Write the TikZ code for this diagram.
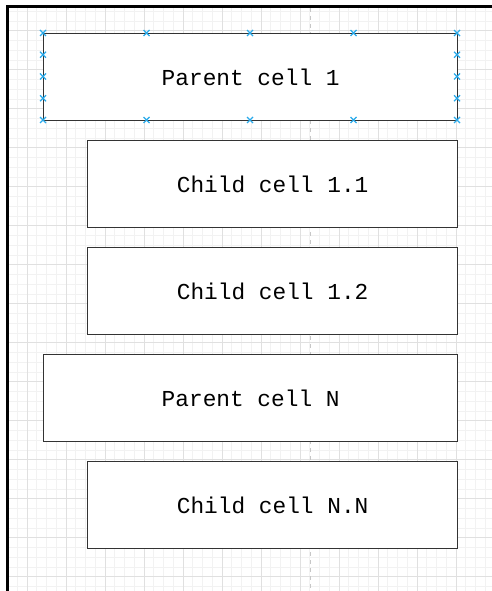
\documentclass[tikz,border=0pt]{standalone}
\usepackage{fontspec}
\newfontfamily\courierfont{Liberation Mono}
\definecolor{selblue}{RGB}{41,170,235}
\begin{document}
\begin{tikzpicture}[x=1pt,y=-1pt,
  cellbox/.style={draw=black!80,line width=1.3pt,fill=white,inner sep=0pt,anchor=north west,
    font=\courierfont\fontsize{22.8}{26}\selectfont},
  minorgrid/.style={draw=black!5,line width=0.8pt},
  majorgrid/.style={draw=black!12,line width=0.8pt},
  guide/.style={draw=black!22,line width=1pt,dash pattern=on 4pt off 4pt},
  selmark/.style={draw=selblue,line width=1.1pt}]
\useasboundingbox (0,0) rectangle (492,591);
\fill[white] (0,0) rectangle (492,591);
% grid
\foreach \k in {-2,...,47} {
  \draw[minorgrid] ({27+9.75*\k},7) -- ({27+9.75*\k},591);
}
\foreach \k in {-2,...,57} {
  \draw[minorgrid] (7,{30.7+9.75*\k}) -- (492,{30.7+9.75*\k});
}
\foreach \k in {0,...,12} {
  \draw[majorgrid] ({27+39*\k},7) -- ({27+39*\k},591);
}
\foreach \k in {0,...,14} {
  \draw[majorgrid] (7,{30.7+39*\k}) -- (492,{30.7+39*\k});
}
% center guide
\coordinate (gtop) at (310.5,8);
\coordinate (gbot) at (310.5,591);
\draw[guide] (gtop) -- (gbot);
% border
\draw[line width=3pt,black] (7,591) -- (7,7) -- (492,7);
% cells
\node[cellbox,minimum width=414pt,minimum height=87pt] (p1) at (43,33) {Parent cell 1};
\node[cellbox,minimum width=370pt,minimum height=87pt] (c11) at (87,140) {Child cell 1.1};
\node[cellbox,minimum width=370pt,minimum height=87pt] (c12) at (87,247) {Child cell 1.2};
\node[cellbox,minimum width=414pt,minimum height=87pt] (pn) at (43,354) {Parent cell N};
\node[cellbox,minimum width=370pt,minimum height=87pt] (cnn) at (87,461) {Child cell N.N};
% selection markers
\foreach \px in {43,146.5,250,353.5,457} {
  \foreach \py in {33,120} {
    \draw[selmark] (\px-3,\py-3) -- (\px+3,\py+3) (\px-3,\py+3) -- (\px+3,\py-3);
  }
}
\foreach \px in {43,457} {
  \foreach \py in {54.75,76.5,98.25} {
    \draw[selmark] (\px-3,\py-3) -- (\px+3,\py+3) (\px-3,\py+3) -- (\px+3,\py-3);
  }
}
\end{tikzpicture}
\end{document}
